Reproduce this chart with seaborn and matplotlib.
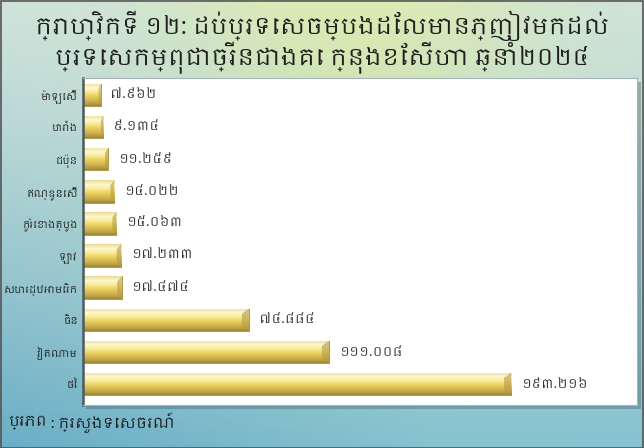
import numpy as np
import pandas as pd
import matplotlib
matplotlib.use("Agg")
import matplotlib.pyplot as plt
from matplotlib import font_manager
from matplotlib.colors import LinearSegmentedColormap, to_rgb
from matplotlib.patches import Rectangle
import seaborn as sns

# ទិន្នន័យ (ពាន់នាក់)
countries = ["ម៉ាឡេស៊ី", "បារាំង", "ជប៉ុន", "ឥណ្ឌូនេស៊ី", "កូរ៉េខាងត្បូង",
             "ឡាវ", "សហរដ្ឋអាមេរិក", "ចិន", "វៀតណាម", "ថៃ"]
visitors = [7.962, 9.134, 11.259, 14.022, 15.063, 17.233, 17.474, 74.884, 111.008, 193.216]

title = "ក្រាហ្វិកទី ១២: ដប់ប្រទេសចម្បងដែលមានភ្ញៀវមកដល់\nប្រទេសកម្ពុជាច្រើនជាងគេ ក្នុងខែសីហា ឆ្នាំ២០២៤"
source_head = "ប្រភព"
source_body = " : ក្រសួងទេសចរណ៍"

KHMER_DIGITS = str.maketrans("0123456789", "០១២៣៤៥៦៧៨៩")


def to_khmer(v):
    return f"{v:.3f}".translate(KHMER_DIGITS)


df = pd.DataFrame({"country": countries, "visitors": visitors})

sns.set_theme(style="white")
khmer_fonts = sorted({f.name for f in font_manager.fontManager.ttflist if "Khmer" in f.name})
plt.rcParams["font.family"] = khmer_fonts[:1] + ["DejaVu Sans"]

fig = plt.figure(figsize=(6.44, 4.48), dpi=100)

# ផ្ទៃខាងក្រោយពណ៌បៃតង-ខៀវ
bg = fig.add_axes([0, 0, 1, 1], zorder=-2)
bg.axis("off")
ny, nx = 120, 200
yy, xx = np.mgrid[0:1:ny * 1j, 0:1:nx * 1j]
top_edge = np.array(to_rgb("#cfe3dc"))
top_mid = np.array(to_rgb("#dcebb2"))
bot_col = np.array(to_rgb("#86c2d0"))
bot_left = np.array(to_rgb("#6aaec6"))
w_mid = np.exp(-((xx - 0.55) / 0.3) ** 2)[..., None]
top = top_edge * (1 - w_mid) + top_mid * w_mid
wl = np.clip(1 - xx * 1.5, 0, 1)[..., None]
bot = bot_col * (1 - wl) + bot_left * wl
t = (yy ** 1.2)[..., None]
img = top * (1 - t) + bot * t
bg.imshow(img, extent=(0, 1, 0, 1), aspect="auto", origin="upper")
bg.set_xlim(0, 1)
bg.set_ylim(0, 1)
bg.add_patch(Rectangle((0.001, 0.001), 0.997, 0.997, fill=False, ec="#555555", lw=1.2))
# ស្រមោលផ្ទាំងក្រាហ្វ
bg.add_patch(Rectangle((0.133, 0.088), 0.862, 0.73, fc="#3f6470", alpha=0.4, lw=0))

ax = fig.add_axes([0.129, 0.096, 0.86, 0.73], zorder=1)
ax.set_facecolor("white")
sns.barplot(data=df, x="visitors", y="country", orient="h", ax=ax,
            color="#e2c75c", width=0.7, saturation=1)

gold = LinearSegmentedColormap.from_list(
    "gold", ["#eadb94", "#fff9d2", "#f8e88e", "#e6cb5c", "#cdb04c", "#a08838"])
grad = np.linspace(0, 1, 60)[:, None]
for p in list(ax.patches):
    x0, y0, w, h = p.get_x(), p.get_y(), p.get_width(), p.get_height()
    im = ax.imshow(grad, cmap=gold, aspect="auto", extent=(x0, x0 + w, y0 + h, y0),
                   origin="upper", zorder=2)
    im.set_clip_path(p)
    p.set_edgecolor("#a48c3c")
    p.set_linewidth(0.6)
    p.set_zorder(1.5)
    # ចុងខាងស្ដាំ (bevel)
    d = min(w * 0.12, 3.2)
    ax.fill([x0 + w - d, x0 + w, x0 + w, x0 + w - d],
            [y0 + h * 0.22, y0, y0 + h, y0 + h * 0.78],
            color="#b59a45", alpha=0.6, zorder=3, lw=0)

for i, v in enumerate(visitors):
    ax.annotate(to_khmer(v), xy=(v, i), xytext=(7, 0), textcoords="offset points",
                va="center", ha="left", fontsize=9.5, color="#3a3a3a")

ax.set_xlim(0, 250)
ax.set_ylim(9.65, -0.53)
ax.set_xticks([])
ax.set_xlabel("")
ax.set_ylabel("")
ax.tick_params(axis="y", length=0, pad=4, labelsize=7, labelcolor="#1e1e1e")
for s in ["top", "right", "bottom"]:
    ax.spines[s].set_color("#a8b4b8")
    ax.spines[s].set_linewidth(0.8)
ax.spines["left"].set_color("#4d5a60")
ax.spines["left"].set_linewidth(1.8)

fig.text(0.5, 0.905, title, ha="center", va="center", fontsize=16.5,
         color="#1f1f1f", linespacing=1.05)
src = fig.text(0.012, 0.056, source_head, ha="left", va="center", fontsize=10.5,
               fontweight="bold", color="#1a1a1a")
fig.canvas.draw()
bb = src.get_window_extent().transformed(fig.transFigure.inverted())
fig.text(bb.x1, 0.056, source_body, ha="left", va="center", fontsize=10.5, color="#1a1a1a")

fig.savefig("out.png", dpi=100)
